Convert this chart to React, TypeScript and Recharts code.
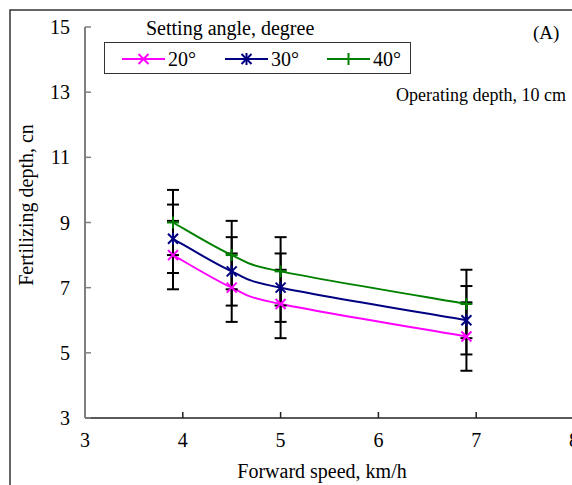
import React from "react";
import { ComposedChart, Line, XAxis, YAxis, ErrorBar } from "recharts";

const speeds = [3.9, 4.5, 5.0, 6.9];
const depth20 = [8.0, 7.0, 6.5, 5.5];
const depth30 = [8.5, 7.5, 7.0, 6.0];
const depth40 = [9.0, 8.0, 7.5, 6.5];
const err20 = [1.05, 1.05, 1.05, 1.05];
const err30 = [1.05, 1.05, 1.05, 1.05];
const err40 = [1.0, 1.05, 1.05, 1.05];
const xTicks = [3, 4, 5, 6, 7, 8];
const yTicks = [3, 5, 7, 9, 11, 13, 15];
const angleLabels = ["20°", "30°", "40°"];

const FONT = "Liberation Serif, Tinos, Times New Roman, DejaVu Serif, serif";
const C20 = "#ff00ff";
const C30 = "#000080";
const C40 = "#008000";

const data = speeds.map((s, i) => ({
  speed: s,
  d20: depth20[i],
  d30: depth30[i],
  d40: depth40[i],
  e20: err20[i],
  e30: err30[i],
  e40: err40[i],
}));

// Excel-like smoothed line (Catmull-Rom through the points)
function smoothCurve(ctx: any) {
  let pts: [number, number][] = [];
  return {
    areaStart() {},
    areaEnd() {},
    lineStart() {
      pts = [];
    },
    point(x: number, y: number) {
      pts.push([+x, +y]);
    },
    lineEnd() {
      if (!pts.length) return;
      ctx.moveTo(pts[0][0], pts[0][1]);
      for (let i = 0; i < pts.length - 1; i++) {
        const p0 = pts[Math.max(i - 1, 0)];
        const p1 = pts[i];
        const p2 = pts[i + 1];
        const p3 = pts[Math.min(i + 2, pts.length - 1)];
        ctx.bezierCurveTo(
          p1[0] + (p2[0] - p0[0]) / 6,
          p1[1] + (p2[1] - p0[1]) / 6,
          p2[0] - (p3[0] - p1[0]) / 6,
          p2[1] - (p3[1] - p1[1]) / 6,
          p2[0],
          p2[1]
        );
      }
    },
  };
}

type Kind = "x" | "star" | "plus";

function Marker({ cx, cy, kind, color }: { cx: number; cy: number; kind: Kind; color: string }) {
  const r = 5;
  const sw = 2;
  return (
    <g stroke={color} strokeWidth={sw} fill="none">
      {(kind === "x" || kind === "star") && (
        <>
          <line x1={cx - r} y1={cy - r} x2={cx + r} y2={cy + r} />
          <line x1={cx - r} y1={cy + r} x2={cx + r} y2={cy - r} />
        </>
      )}
      {kind === "star" && <line x1={cx} y1={cy - r - 1} x2={cx} y2={cy + r + 1} />}
      {kind === "plus" && (
        <>
          <line x1={cx - r - 1} y1={cy} x2={cx + r + 1} y2={cy} />
          <line x1={cx} y1={cy - r - 1} x2={cx} y2={cy + r + 1} />
        </>
      )}
    </g>
  );
}

const dotFor = (kind: Kind, color: string) => (p: any) =>
  <Marker key={`${kind}-${p.index}`} cx={p.cx} cy={p.cy} kind={kind} color={color} />;

export default function App() {
  const tickStyle = { fill: "#000", fontSize: 20, fontFamily: FONT };
  return (
    <div
      style={{
        position: "fixed",
        left: 0,
        top: 0,
        width: 572,
        height: 485,
        overflow: "hidden",
        background: "#fff",
        fontFamily: FONT,
      }}
    >
      <div style={{ position: "absolute", left: 0, top: 0 }}>
        <ComposedChart
          width={600}
          height={485}
          data={data}
          margin={{ top: 27, right: 26, bottom: 27, left: 0 }}
          style={{ fontFamily: FONT }}
        >
          <XAxis
            dataKey="speed"
            type="number"
            domain={[3, 8]}
            ticks={xTicks}
            allowDataOverflow
            height={40}
            stroke="#222"
            axisLine={{ stroke: "#222", strokeWidth: 1.5 }}
            tickLine={{ stroke: "#222", strokeWidth: 1.5 }}
            tickSize={-6}
            tickMargin={21}
            tick={tickStyle}
          />
          <YAxis
            type="number"
            domain={[3, 15]}
            ticks={yTicks}
            allowDataOverflow
            width={85}
            stroke="#808080"
            axisLine={{ stroke: "#808080", strokeWidth: 2 }}
            tickLine={{ stroke: "#808080", strokeWidth: 1.5 }}
            tickSize={-6}
            tickMargin={21}
            tick={tickStyle}
          />
          <Line
            type={smoothCurve as any}
            dataKey="d20"
            stroke={C20}
            strokeWidth={2}
            dot={dotFor("x", C20)}
            activeDot={false}
            isAnimationActive={false}
          >
            <ErrorBar dataKey="e20" direction="y" width={6} stroke="#000" strokeWidth={2} />
          </Line>
          <Line
            type={smoothCurve as any}
            dataKey="d30"
            stroke={C30}
            strokeWidth={2}
            dot={dotFor("star", C30)}
            activeDot={false}
            isAnimationActive={false}
          >
            <ErrorBar dataKey="e30" direction="y" width={6} stroke="#000" strokeWidth={2} />
          </Line>
          <Line
            type={smoothCurve as any}
            dataKey="d40"
            stroke={C40}
            strokeWidth={2}
            dot={dotFor("plus", C40)}
            activeDot={false}
            isAnimationActive={false}
          >
            <ErrorBar dataKey="e40" direction="y" width={6} stroke="#000" strokeWidth={2} />
          </Line>
        </ComposedChart>
      </div>

      <svg
        width={572}
        height={485}
        style={{ position: "absolute", left: 0, top: 0, pointerEvents: "none", fontFamily: FONT }}
      >
        <rect x={10} y={10} width={700} height={700} fill="none" stroke="#333" strokeWidth={1.5} />

        <text x={146} y={35} fontSize={20} fill="#000">
          Setting angle, degree
        </text>
        <rect x={104.5} y={42.5} width={306} height={31} fill="#fff" stroke="#333" strokeWidth={1} />
        {[
          { x: 122, c: C20, k: "x" as Kind, t: angleLabels[0] },
          { x: 225, c: C30, k: "star" as Kind, t: angleLabels[1] },
          { x: 327, c: C40, k: "plus" as Kind, t: angleLabels[2] },
        ].map((it) => (
          <g key={it.t}>
            <line x1={it.x} y1={59} x2={it.x + 43} y2={59} stroke={it.c} strokeWidth={2} />
            <Marker cx={it.x + 21.5} cy={59} kind={it.k} color={it.c} />
            <text x={it.x + 46} y={66} fontSize={20} fill="#000">
              {it.t}
            </text>
          </g>
        ))}

        <text x={533} y={39} fontSize={19} fill="#000">
          (A)
        </text>
        <text x={396} y={101} fontSize={18} fill="#000">
          Operating depth, 10 cm
        </text>

        <text x={322} y={478} fontSize={20} fill="#000" textAnchor="middle">
          Forward speed, km/h
        </text>
        <text
          x={0}
          y={0}
          fontSize={20}
          fill="#000"
          textAnchor="middle"
          transform="translate(33,205) rotate(-90)"
        >
          Fertilizing depth, cn
        </text>
      </svg>
    </div>
  );
}
